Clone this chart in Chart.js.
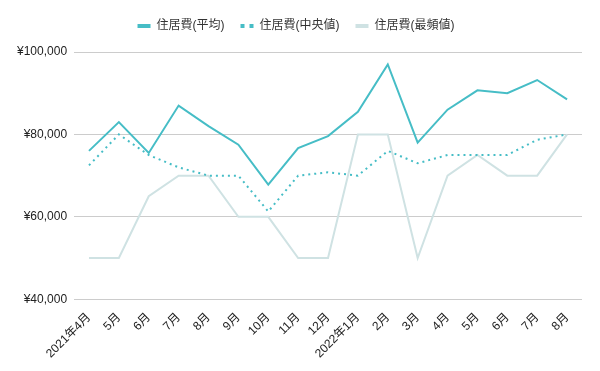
<!DOCTYPE html>
<html>
<head>
<meta charset="utf-8">
<script src="https://cdn.jsdelivr.net/npm/chart.js@4"></script>
<style>
  html, body { margin: 0; padding: 0; background: #fff; }
</style>
</head>
<body>
<canvas id="chart" width="600" height="371"></canvas>
<script>
const months = ["2021年4月", "5月", "6月", "7月", "8月", "9月", "10月", "11月", "12月",
  "2022年1月", "2月", "3月", "4月", "5月", "6月", "7月", "8月"];
const avgCost = [76000, 83000, 75500, 87000, 82000, 77500, 67800, 76700, 79600,
  85500, 97000, 78000, 86000, 90700, 90000, 93200, 88500];
const medianCost = [72500, 80000, 75000, 72000, 70000, 70000, 61300, 70000, 70800,
  70000, 76000, 73000, 75000, 75000, 75000, 78700, 80000];
const modeCost = [50000, 50000, 65000, 70000, 70000, 60000, 60000, 50000, 50000,
  80000, 80000, 50000, 70000, 75000, 70000, 70000, 80000];
const seriesNames = ["住居費(平均)", "住居費(中央値)", "住居費(最頻値)"];

const fontFamily = "'Liberation Sans', Arial, 'Noto Sans CJK JP', sans-serif";

// give the legend a bit more room underneath
const legendSpacer = {
  id: "legendSpacer",
  beforeInit(chart) {
    const origFit = chart.legend.fit;
    chart.legend.fit = function () {
      origFit.bind(chart.legend)();
      this.height += 10;
    };
  }
};

document.addEventListener("DOMContentLoaded", () => {
  const ctx = document.getElementById("chart").getContext("2d");
  new Chart(ctx, {
    type: "line",
    data: {
      labels: months,
      datasets: [
        {
          label: seriesNames[0],
          data: avgCost,
          borderColor: "#46bdc6",
          backgroundColor: "#46bdc6",
          borderWidth: 2
        },
        {
          label: seriesNames[1],
          data: medianCost,
          borderColor: "#46bdc6",
          backgroundColor: "#46bdc6",
          borderWidth: 2,
          borderDash: [2, 4]
        },
        {
          label: seriesNames[2],
          data: modeCost,
          borderColor: "#cfe2e3",
          backgroundColor: "#cfe2e3",
          borderWidth: 2
        }
      ]
    },
    plugins: [legendSpacer],
    options: {
      responsive: false,
      animation: false,
      elements: {
        point: { radius: 0 },
        line: { tension: 0 }
      },
      layout: { padding: { left: 10, right: 18, top: 4, bottom: 7 } },
      plugins: {
        legend: {
          position: "top",
          labels: {
            usePointStyle: true,
            pointStyle: "line",
            pointStyleWidth: 13,
            padding: 16,
            color: "#333",
            font: { family: fontFamily, size: 12 },
            generateLabels: (chart) => {
              const items = Chart.defaults.plugins.legend.labels.generateLabels(chart);
              items.forEach(it => {
                const ds = chart.data.datasets[it.datasetIndex];
                it.lineWidth = 4;
                it.lineDash = ds.borderDash ? [4, 5] : [];
              });
              return items;
            }
          }
        },
        tooltip: { enabled: false }
      },
      scales: {
        x: {
          offset: true,
          grid: { display: false },
          border: { display: false },
          ticks: {
            color: "#222",
            font: { family: fontFamily, size: 12 },
            maxRotation: 45,
            minRotation: 45,
            autoSkip: false
          }
        },
        y: {
          min: 40000,
          max: 100000,
          border: { display: false },
          grid: { color: "#cccccc", drawTicks: false },
          ticks: {
            stepSize: 20000,
            padding: 7,
            color: "#222",
            font: { family: fontFamily, size: 12 },
            callback: (v) => "¥" + v.toLocaleString("en-US")
          }
        }
      }
    }
  });
});
</script>
</body>
</html>
